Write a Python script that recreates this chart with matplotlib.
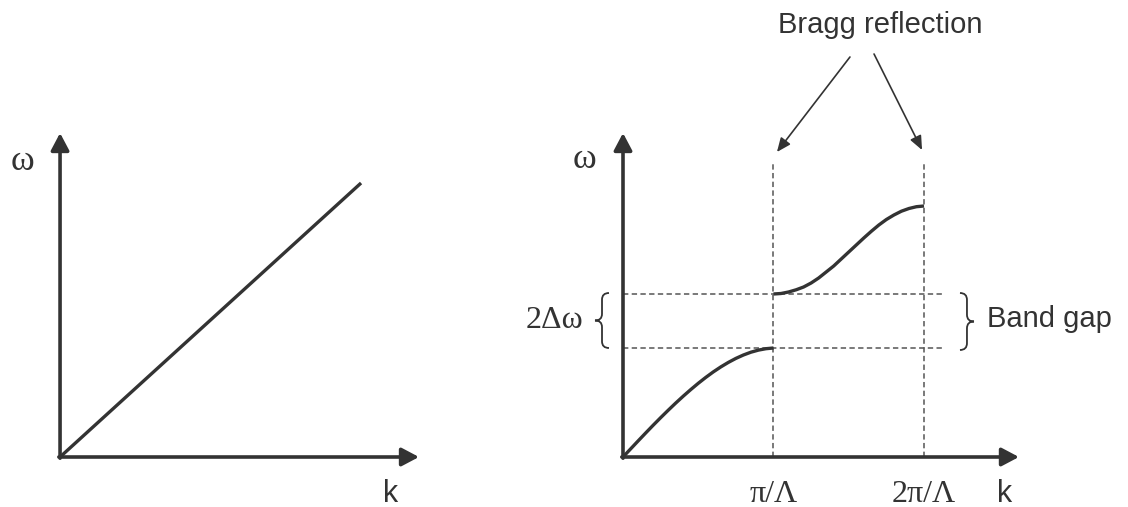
import matplotlib.pyplot as plt
from matplotlib.path import Path
from matplotlib.patches import PathPatch

# free space: omega grows linearly with k
k_free = [0.0, 2.0]
w_free = [0.0, 2.74]

# periodic medium, k in units of pi/Lambda
k_band1 = [0.0, 0.05, 0.1, 0.15, 0.2, 0.25, 0.3, 0.35, 0.4, 0.45, 0.5,
           0.55, 0.6, 0.65, 0.7, 0.75, 0.8, 0.85, 0.9, 0.95, 1.0]
w_band1 = [0.0, 0.080, 0.160, 0.239, 0.317, 0.393, 0.467, 0.539, 0.608, 0.674, 0.737,
           0.796, 0.851, 0.901, 0.946, 0.986, 1.020, 1.048, 1.069, 1.083, 1.09]
k_band2 = [1.0, 1.05, 1.1, 1.15, 1.2, 1.25, 1.3, 1.35, 1.4, 1.45, 1.5,
           1.55, 1.6, 1.65, 1.7, 1.75, 1.8, 1.85, 1.9, 1.95, 2.0]
w_band2 = [1.63, 1.635, 1.65, 1.672, 1.70, 1.74, 1.79, 1.85, 1.91, 1.98, 2.05,
           2.12, 2.19, 2.257, 2.32, 2.375, 2.42, 2.458, 2.485, 2.503, 2.51]

gap_low = 1.09
gap_high = 1.63
bragg_k = [1.0, 2.0]
bragg_labels = ["π/Λ", "2π/Λ"]

INK = "#333333"
plt.rcParams["font.family"] = ["Liberation Sans", "DejaVu Sans"]
SERIF = ["Liberation Serif", "DejaVu Serif"]

fig = plt.figure(figsize=(11.28, 5.07), dpi=100)
ax1 = fig.add_axes([0, 0, 540 / 1128, 1])
ax2 = fig.add_axes([540 / 1128, 0, 588 / 1128, 1])
ax1.set_xlim(-0.399, 3.189)
ax2.set_xlim(-0.5515, 3.3555)
for ax in (ax1, ax2):
    ax.set_ylim(-0.5, 4.57)
    ax.axis("off")


def draw_axes(ax, kmax, wmax):
    style = dict(arrowstyle="-|>,head_length=0.87,head_width=0.46",
                 mutation_scale=12, lw=2.6, color=INK, shrinkA=0, shrinkB=0)
    ax.annotate("", xy=(kmax, 0), xytext=(-0.008, 0), arrowprops=style)
    ax.annotate("", xy=(0, wmax), xytext=(0, -0.012), arrowprops=style)


def brace(ax, x_arm, x_tip, y0, y1):
    xm = (x_arm + x_tip) / 2
    yc = (y0 + y1) / 2
    r = 0.12 * (y1 - y0)
    verts = [(x_arm, y1), (xm, y1), (xm, y1 - r), (xm, yc + r), (xm, yc), (x_tip, yc),
             (xm, yc), (xm, yc - r), (xm, y0 + r), (xm, y0), (x_arm, y0)]
    codes = [Path.MOVETO, Path.CURVE3, Path.CURVE3, Path.LINETO, Path.CURVE3, Path.CURVE3,
             Path.CURVE3, Path.CURVE3, Path.LINETO, Path.CURVE3, Path.CURVE3]
    ax.add_patch(PathPatch(Path(verts, codes), fill=False, lw=1.3, color=INK))


curve = dict(color=INK, lw=2.4, solid_capstyle="butt", solid_joinstyle="round")

# left panel
ax1.plot(k_free, w_free, **curve)
draw_axes(ax1, 2.385, 3.24)
ax1.text(-0.2525, 2.96, "ω", family=SERIF, fontsize=26, color=INK, ha="center", va="center")
ax1.text(2.193, -0.37, "k", fontsize=22, color=INK, ha="center", va="center")

# right panel
dash = dict(color="#555555", lw=1.1, linestyle=(0, (3.5, 2.2)))
for w in (gap_low, gap_high):
    ax2.plot([0, 2.126], [w, w], **dash)
for k in bragg_k:
    ax2.plot([k, k], [0, 2.95], **dash)

ax2.plot(k_band1, w_band1, **curve)
ax2.plot(k_band2, w_band2, **curve)
draw_axes(ax2, 2.631, 3.24)

ax2.text(-0.2525, 2.97, "ω", family=SERIF, fontsize=26, color=INK, ha="center", va="center")
for k, lab in zip(bragg_k, bragg_labels):
    ax2.text(k, -0.37, lab, family=SERIF, fontsize=23, color=INK, ha="center", va="center")
ax2.text(2.538, -0.37, "k", fontsize=22, color=INK, ha="center", va="center")

brace(ax2, -0.093, -0.186, gap_low, gap_high + 0.01)
brace(ax2, 2.239, 2.332, gap_low - 0.02, gap_high + 0.01)
ax2.text(-0.266, 1.36, "2Δω", family=SERIF, fontsize=23, color=INK, ha="right", va="center")
ax2.text(2.418, 1.30, "Band gap", fontsize=21, color=INK, ha="left", va="baseline")

ax2.text(1.03, 4.24, "Bragg reflection", fontsize=21, color=INK, ha="left", va="baseline")
thin = dict(arrowstyle="-|>,head_length=0.7,head_width=0.3", mutation_scale=12,
            lw=1.2, color=INK, shrinkA=0, shrinkB=0)
ax2.annotate("", xy=(1.023, 3.05), xytext=(1.508, 4.00), arrowprops=thin)
ax2.annotate("", xy=(1.987, 3.07), xytext=(1.668, 4.03), arrowprops=thin)

fig.savefig("out.png", dpi=100)
